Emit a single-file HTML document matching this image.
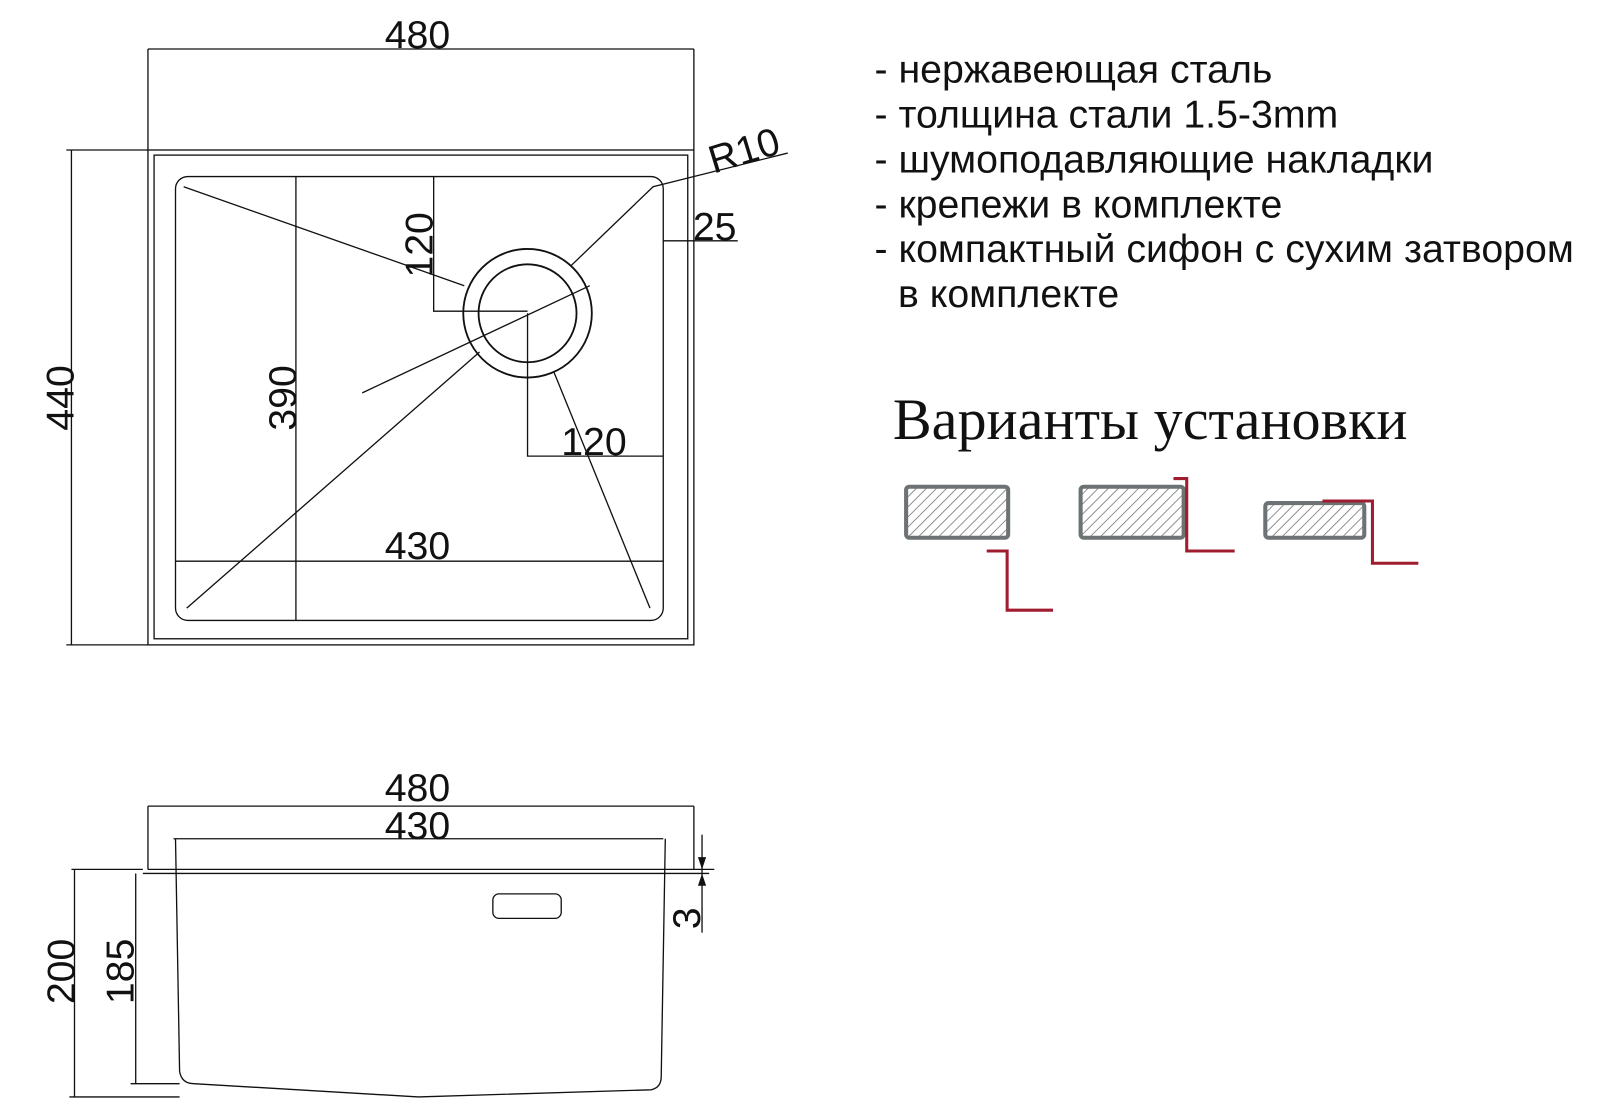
<!DOCTYPE html>
<html><head><meta charset="utf-8"><style>
body{margin:0;background:#fff;width:1600px;height:1110px;overflow:hidden}
svg text{font-family:"Liberation Sans",sans-serif;fill:#111}
</style></head><body>
<svg width="1600" height="1110" viewBox="0 0 1600 1110" xmlns="http://www.w3.org/2000/svg">
<defs><pattern id="h" width="7" height="7" patternUnits="userSpaceOnUse" patternTransform="rotate(45)"><line x1="0" y1="0" x2="0" y2="7" stroke="#777" stroke-width="1.6"/></pattern></defs>
<g transform="scale(1.0204)">
<g stroke="#111" fill="none" stroke-width="1.3">
<line x1="145" y1="48" x2="680" y2="48"/><line x1="145" y1="48" x2="145" y2="147"/><line x1="680" y1="48" x2="680" y2="147"/>
<rect x="145" y="147" width="535" height="485"/>
<rect x="151" y="152" width="523" height="474"/>
<line x1="65" y1="147" x2="145" y2="147"/><line x1="65" y1="632" x2="145" y2="632"/><line x1="70" y1="147" x2="70" y2="632"/>
<rect x="172" y="173" width="478" height="435" rx="12"/>
<circle cx="517" cy="307" r="63" stroke-width="1.8"/><circle cx="517" cy="307" r="48" stroke-width="1.8"/>
<line x1="290" y1="173" x2="290" y2="608"/>
<line x1="172" y1="550" x2="650" y2="550"/>
<polyline points="425,173 425,305 517,305"/>
<polyline points="517,307 517,447 650,447"/>
<line x1="650" y1="236" x2="723" y2="236"/>
<polyline points="560,260 640,183 772,150"/>
<line x1="180" y1="183" x2="455" y2="280"/>
<line x1="355" y1="385" x2="578" y2="280"/>
<line x1="183" y1="596" x2="470" y2="345"/>
<line x1="543" y1="365" x2="637" y2="596"/>
<line x1="145" y1="790" x2="680" y2="790"/><line x1="145" y1="790" x2="145" y2="852"/><line x1="680" y1="790" x2="680" y2="852"/>
<line x1="170" y1="822" x2="650" y2="822"/>
<polyline points="145,852 700,852"/><polyline points="140,856 695,856"/>
<path d="M172 822 L176 1050 Q178 1062 190 1062 L410 1075 L638 1068 Q648 1066 648 1055 L652 822"/>
<rect x="483" y="876" width="67" height="24" rx="6"/>
<line x1="70" y1="852" x2="140" y2="852"/><line x1="73" y1="852" x2="73" y2="1075"/><line x1="68" y1="1075" x2="176" y2="1075"/>
<line x1="133" y1="856" x2="133" y2="1062"/><line x1="128" y1="1062" x2="176" y2="1062"/>
<line x1="688" y1="818" x2="688" y2="914"/>
</g>
<g fill="#111"><path d="M684 840 L692 840 L688 852Z"/><path d="M684 868 L692 868 L688 856Z"/></g>
<g font-size="38.5">
<text x="377" y="47">480</text>
<text x="377" y="548">430</text>
<text x="550" y="446">120</text>
<text x="679" y="235">25</text>
<text transform="translate(733,160) rotate(-17)" text-anchor="middle">R10</text>
<text transform="translate(72,390) rotate(-90)" text-anchor="middle">440</text>
<text transform="translate(290,390) rotate(-90)" text-anchor="middle">390</text>
<text transform="translate(424,240) rotate(-90)" text-anchor="middle">120</text>
<text x="377" y="785">480</text>
<text x="377" y="822">430</text>
<text transform="translate(73,952) rotate(-90)" text-anchor="middle">200</text>
<text transform="translate(131,952) rotate(-90)" text-anchor="middle">185</text>
<text transform="translate(686,900) rotate(-90)" text-anchor="middle">3</text>
</g>
<g font-size="38.5">
<text x="857" y="81">- нержавеющая сталь</text>
<text x="857" y="125">- толщина стали 1.5-3mm</text>
<text x="857" y="169">- шумоподавляющие накладки</text>
<text x="857" y="213">- крепежи в комплекте</text>
<text x="857" y="257">- компактный сифон с сухим затвором</text>
<text x="880" y="301">в комплекте</text>
</g>
<text x="875" y="430" style="font-family:'Liberation Serif',serif;font-size:57px">Варианты установки</text>
<g stroke="#6d7275" stroke-width="4" fill="url(#h)">
<rect x="888" y="477" width="100" height="50" rx="3"/>
<rect x="1059" y="477" width="101" height="50" rx="3"/>
<rect x="1240" y="493" width="97" height="34" rx="3"/>
</g>
<g stroke="#a01c30" stroke-width="3" fill="none">
<polyline points="967,540 987,540 987,598 1032,598"/>
<polyline points="1150,469 1163,469 1163,540 1210,540"/>
<polyline points="1296,491 1345,491 1345,552 1390,552"/>
</g>
</g>
</svg>
</body></html>
